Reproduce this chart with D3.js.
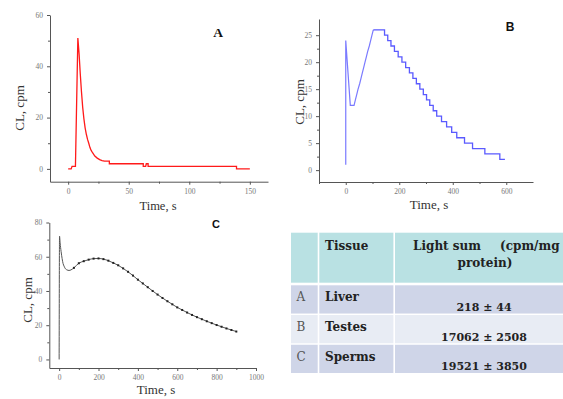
<!DOCTYPE html>
<html><head><meta charset="utf-8">
<script src="https://cdn.jsdelivr.net/npm/d3@7"></script>
<style>body{margin:0;background:#fff} svg{display:block}</style>
</head><body>
<svg id="c" width="563" height="399"></svg>
<script>
// ---------- Panel A (Liver) ----------
const timeA = [0, 2.5, 3.2, 6, 8, 9, 10, 11, 12, 13, 14, 15, 16, 17, 18, 19, 20, 22, 24, 26, 28, 30, 34, 34, 62, 62, 64, 64.5, 66, 66, 139, 139, 150];
const cpmA  = [0, 0, 1, 1, 51, 45, 37, 30, 24, 19.5, 16, 13.5, 11.5, 10, 8.3, 7.2, 6.4, 5, 4.2, 3.6, 3.2, 3, 3, 2, 2, 1, 1, 2, 2, 1, 1, 0, 0];
const xTicksA = [0, 50, 100, 150], xMinorA = [25, 75, 125];
const yTicksA = [0, 20, 40, 60], yMinorA = [10, 30, 50];

// ---------- Panel B (Testes) ----------
const timeBrise = [0, 0, 17, 31, 36, 41, 46, 52, 57, 62, 67, 72, 77, 82, 88, 93, 98, 103];
const cpmBrise  = [1, 24, 12, 12, 13, 14, 15, 16, 17, 18, 19, 20, 21, 22, 23, 24, 25, 26];
const timeBfall = [103, 145, 157, 169, 182, 196, 210, 224, 238, 251, 264, 277, 290, 302, 314, 327, 340, 358, 377, 396, 415, 444, 474, 520, 576, 595];
const cpmBfall  = [26, 25, 24, 23, 22, 21, 20, 19, 18, 17, 16, 15, 14, 13, 12, 11, 10, 9, 8, 7, 6, 5, 4, 3, 2, 2];
const xTicksB = [0, 200, 400, 600], xMinorB = [-100, 100, 300, 500];
const yTicksB = [0, 5, 10, 15, 20, 25], yMinorB = [2.5, 7.5, 12.5, 17.5, 22.5];

// ---------- Panel C (Sperms) ----------
const timeC = [0, 2, 5, 10, 15, 20, 25, 30, 40, 50, 60, 75, 100, 125, 150, 175, 200, 225, 250, 275, 300, 325, 350, 375, 400, 425, 450, 475, 500, 525, 550, 575, 600, 625, 650, 675, 700, 725, 750, 775, 800, 825, 850, 875, 900];
const cpmC  = [0, 72, 68, 63, 59, 56, 54.5, 53.3, 52.3, 52, 52.3, 53.5, 56.2, 57.4, 58.3, 58.9, 59.0, 58.6, 57.7, 56.4, 55.0, 53.2, 51.2, 49.0, 46.6, 44.4, 42.2, 40.0, 37.9, 35.9, 34.0, 32.2, 30.4, 28.9, 27.4, 26.0, 24.7, 23.5, 22.3, 21.2, 20.1, 19.1, 18.1, 17.2, 16.3];
const xTicksC = [0, 200, 400, 600, 800, 1000], xMinorC = [100, 300, 500, 700, 900];
const yTicksC = [0, 20, 40, 60, 80], yMinorC = [10, 30, 50, 70];

// ---------- Table ----------
const rowLetters = ["A", "B", "C"];
const tissues = ["Liver", "Testes", "Sperms"];
const lightMean = [218, 17062, 19521];
const lightSD = [44, 2508, 3850];
const headers = ["Tissue", "Light sum", "(cpm/mg", "protein)"];

const svg = d3.select("#c");
const serif = "'Liberation Serif', 'DejaVu Serif', serif";
const fmt = d3.format("d");

function axes(g, x, y, xt, xm, yt, ym) {
  g.append("g").attr("transform", `translate(0,${y.range()[0]})`)
    .call(d3.axisBottom(x).tickValues(xt).tickFormat(fmt).tickSize(3).tickPadding(3.5).tickSizeOuter(0));
  g.append("g").attr("transform", `translate(0,${y.range()[0]})`)
    .call(d3.axisBottom(x).tickValues(xm).tickSize(2).tickFormat("").tickSizeOuter(0)).select(".domain").remove();
  g.append("g").attr("transform", `translate(${x.range()[0]},0)`)
    .call(d3.axisLeft(y).tickValues(yt).tickFormat(fmt).tickSize(3).tickPadding(4).tickSizeOuter(0));
  g.append("g").attr("transform", `translate(${x.range()[0]},0)`)
    .call(d3.axisLeft(y).tickValues(ym).tickSize(2).tickFormat("").tickSizeOuter(0)).select(".domain").remove();
  g.selectAll(".domain").attr("stroke", "#555");
  g.selectAll(".tick line").attr("stroke", "#555");
  g.selectAll(".tick text").attr("fill", "#777").attr("font-family", serif).attr("font-size", 7.5);
}

function label(g, txt, x, y, size, rot, opts = {}) {
  const t = g.append("text").text(txt).attr("font-family", opts.family || serif)
    .attr("font-size", size).attr("fill", opts.fill || "#333").attr("text-anchor", opts.anchor || "middle")
    .attr("font-weight", opts.weight || "normal");
  if (rot) t.attr("transform", `translate(${x},${y}) rotate(-90)`);
  else t.attr("x", x).attr("y", y);
}

// Panel A
{
  const g = svg.append("g");
  const x = d3.scaleLinear().domain([-15, 165]).range([50, 268]);
  const y = d3.scaleLinear().domain([-5, 60]).range([181.7, 15]);
  axes(g, x, y, xTicksA, xMinorA, yTicksA, yMinorA);
  const line = d3.line().x((d, i) => x(timeA[i])).y(d => y(d));
  g.append("path").attr("d", line(cpmA)).attr("fill", "none").attr("stroke", "#ff1a1a").attr("stroke-width", 1.3);
  label(g, "CL, cpm", 24, 108, 13, true);
  label(g, "Time, s", 158, 210, 12.5);
  label(g, "A", 218, 37, 13.5, false, {weight: "bold", fill: "#111"});
}

// Panel B
{
  const g = svg.append("g");
  const x = d3.scaleLinear().domain([-100, 700]).range([319, 533]);
  const y = d3.scaleLinear().domain([-2.2, 28]).range([182, 19]);
  axes(g, x, y, xTicksB, xMinorB, yTicksB, yMinorB);
  const lr = d3.line().x((d, i) => x(timeBrise[i])).y(d => y(d));
  const lf = d3.line().curve(d3.curveStepAfter).x((d, i) => x(timeBfall[i])).y(d => y(d));
  g.append("path").attr("d", lr(cpmBrise)).attr("fill", "none").attr("stroke", "#7a7aff").attr("stroke-width", 1.2);
  g.append("path").attr("d", lf(cpmBfall)).attr("fill", "none").attr("stroke", "#5a5aff").attr("stroke-width", 1.3);
  label(g, "CL, cpm", 304, 102, 13, true);
  label(g, "Time, s", 429, 209, 13);
  label(g, "B", 510, 31, 12, false, {weight: "bold", fill: "#111", family: "'Liberation Sans', Arial, sans-serif"});
}

// Panel C
{
  const g = svg.append("g");
  const x = d3.scaleLinear().domain([-50, 1000]).range([49.3, 256]);
  const y = d3.scaleLinear().domain([-5, 80]).range([368, 222.5]);
  axes(g, x, y, xTicksC, xMinorC, yTicksC, yMinorC);
  const line = d3.line().curve(d3.curveMonotoneX).x((d, i) => x(timeC[i])).y(d => y(d));
  g.append("path").attr("d", line(cpmC)).attr("fill", "none").attr("stroke", "#555").attr("stroke-width", 1);
  g.selectAll("rect.m").data(cpmC.map((v, i) => [timeC[i], v]).filter(d => d[0] >= 75))
    .join("rect").attr("class", "m").attr("x", d => x(d[0]) - 1).attr("y", d => y(d[1]) - 1)
    .attr("width", 2).attr("height", 2).attr("fill", "#222");
  label(g, "CL, cpm", 32, 300, 13, true);
  label(g, "Time, s", 156, 394, 13);
  label(g, "C", 216, 228, 11, false, {weight: "bold", fill: "#111", family: "'Liberation Sans', Arial, sans-serif"});
}

// Table
{
  const g = svg.append("g");
  const tf = "'DejaVu Serif', serif";
  const left = 291, right = 563;
  const rowY = d3.scaleBand().domain(rowLetters).range([285.3, 373]).paddingInner(0.05);
  const fills = ["#cfd5e8", "#e8ecf4", "#cfd5e8"];
  g.append("rect").attr("x", left).attr("y", 232.7).attr("width", right - left).attr("height", 50).attr("fill", "#b9e1e3");
  g.selectAll("rect.row").data(rowLetters).join("rect").attr("class", "row")
    .attr("x", left).attr("y", d => rowY(d)).attr("width", right - left).attr("height", rowY.bandwidth())
    .attr("fill", (d, i) => fills[i]);
  [318.5, 394.2].forEach(cx => g.append("line").attr("x1", cx).attr("x2", cx).attr("y1", 232).attr("y2", 374)
    .attr("stroke", "#fff").attr("stroke-width", 1.6));
  const hdr = (t, x, y, anchor) => g.append("text").text(t).attr("x", x).attr("y", y).attr("text-anchor", anchor || "start")
    .attr("font-family", tf).attr("font-weight", "bold").attr("font-size", 12).attr("fill", "#222");
  hdr(headers[0], 325, 249.5);
  hdr(headers[1], 413, 249.5);
  hdr(headers[2], 500, 249.5);
  hdr(headers[3], 485, 266.5, "middle");
  rowLetters.forEach((r, i) => {
    const y0 = rowY(r);
    g.append("text").text(r).attr("x", 296.5).attr("y", y0 + 16).attr("font-family", tf).attr("font-size", 12).attr("fill", "#555");
    g.append("text").text(tissues[i]).attr("x", 325).attr("y", y0 + 16).attr("font-family", tf).attr("font-weight", "bold").attr("font-size", 12).attr("fill", "#222");
    g.append("text").text(`${lightMean[i]} ± ${lightSD[i]}`).attr("x", 484).attr("y", y0 + 25.5).attr("text-anchor", "middle")
      .attr("font-family", tf).attr("font-weight", "bold").attr("font-size", 11).attr("fill", "#222");
  });
}
</script>
</body></html>
